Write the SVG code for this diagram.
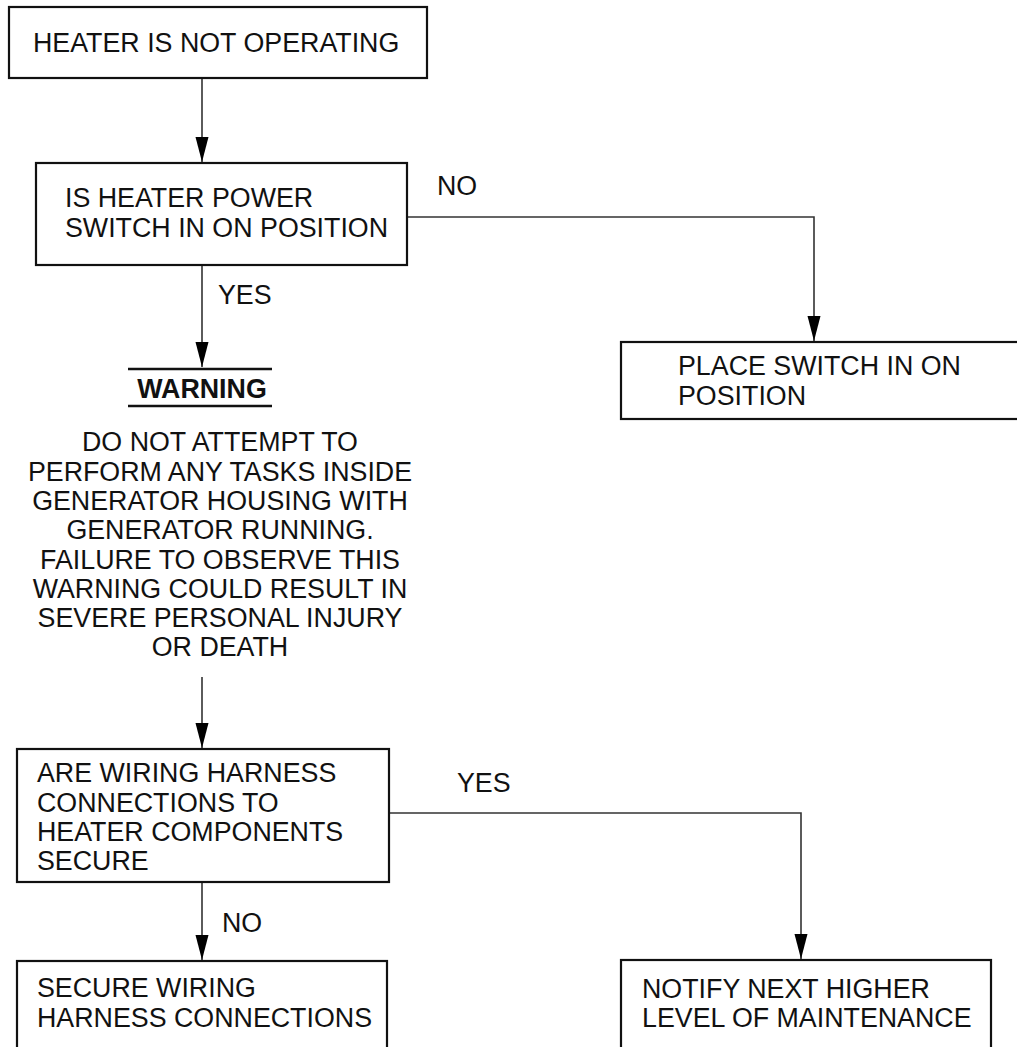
<svg xmlns="http://www.w3.org/2000/svg" width="1017" height="1047" viewBox="0 0 1017 1047">
<style>
.box{fill:#fff;stroke:#111;stroke-width:2.2}
.t{font-family:"Liberation Sans",Arial,sans-serif;font-size:26.8px;fill:#111}
.c{fill:none;stroke:#333;stroke-width:1.6}
.w{stroke:#111;stroke-width:2.4}
</style>
<defs>
<marker id="ah" markerUnits="userSpaceOnUse" markerWidth="26" markerHeight="14" refX="25" refY="6.5" orient="auto">
<path d="M0,0 L25,6.5 L0,13 z" fill="#000"/>
</marker>
</defs>
<rect width="1017" height="1047" fill="#fff"/>
<g id="connectors">
<path class="c" d="M202,78 V162" marker-end="url(#ah)"/>
<path class="c" d="M407,217 H814 V341" marker-end="url(#ah)"/>
<path class="c" d="M202,265 V367" marker-end="url(#ah)"/>
<path class="c" d="M202,677 V748" marker-end="url(#ah)"/>
<path class="c" d="M389,813 H801 V959" marker-end="url(#ah)"/>
<path class="c" d="M202,882 V960" marker-end="url(#ah)"/>
<text class="t" x="437" y="195">NO</text>
<text class="t" x="218" y="304">YES</text>
<text class="t" x="457" y="792">YES</text>
<text class="t" x="222" y="932">NO</text>
</g>
<g id="n1">
<rect class="box" x="9" y="7" width="418" height="71"/>
<text class="t" x="33" y="52">HEATER IS NOT OPERATING</text>
</g>
<g id="n2">
<rect class="box" x="36" y="163" width="371" height="102"/>
<text class="t" x="65" y="207">IS HEATER POWER</text>
<text class="t" x="65" y="237">SWITCH IN ON POSITION</text>
</g>
<g id="n3">
<rect class="box" x="621" y="342" width="420" height="77"/>
<text class="t" x="678" y="375">PLACE SWITCH IN ON</text>
<text class="t" x="678" y="405">POSITION</text>
</g>
<g id="warning">
<line class="w" x1="128" y1="369" x2="272" y2="369"/>
<text class="t" x="202" y="398" text-anchor="middle" font-weight="bold">WARNING</text>
<line class="w" x1="128" y1="406" x2="272" y2="406"/>
<g text-anchor="middle">
<text class="t" x="220" y="451">DO NOT ATTEMPT TO</text>
<text class="t" x="220" y="480.5">PERFORM ANY TASKS INSIDE</text>
<text class="t" x="220" y="510">GENERATOR HOUSING WITH</text>
<text class="t" x="220" y="539">GENERATOR RUNNING.</text>
<text class="t" x="220" y="568.5">FAILURE TO OBSERVE THIS</text>
<text class="t" x="220" y="598">WARNING COULD RESULT IN</text>
<text class="t" x="220" y="627">SEVERE PERSONAL INJURY</text>
<text class="t" x="220" y="656">OR DEATH</text>
</g>
</g>
<g id="n4">
<rect class="box" x="17" y="749" width="372" height="133"/>
<text class="t" x="37" y="782">ARE WIRING HARNESS</text>
<text class="t" x="37" y="812">CONNECTIONS TO</text>
<text class="t" x="37" y="841">HEATER COMPONENTS</text>
<text class="t" x="37" y="870">SECURE</text>
</g>
<g id="n5">
<rect class="box" x="621" y="960" width="370" height="100"/>
<text class="t" x="642" y="998">NOTIFY NEXT HIGHER</text>
<text class="t" x="642" y="1027">LEVEL OF MAINTENANCE</text>
</g>
<g id="n6">
<rect class="box" x="17" y="961" width="370" height="100"/>
<text class="t" x="37" y="997">SECURE WIRING</text>
<text class="t" x="37" y="1027">HARNESS CONNECTIONS</text>
</g>
</svg>
